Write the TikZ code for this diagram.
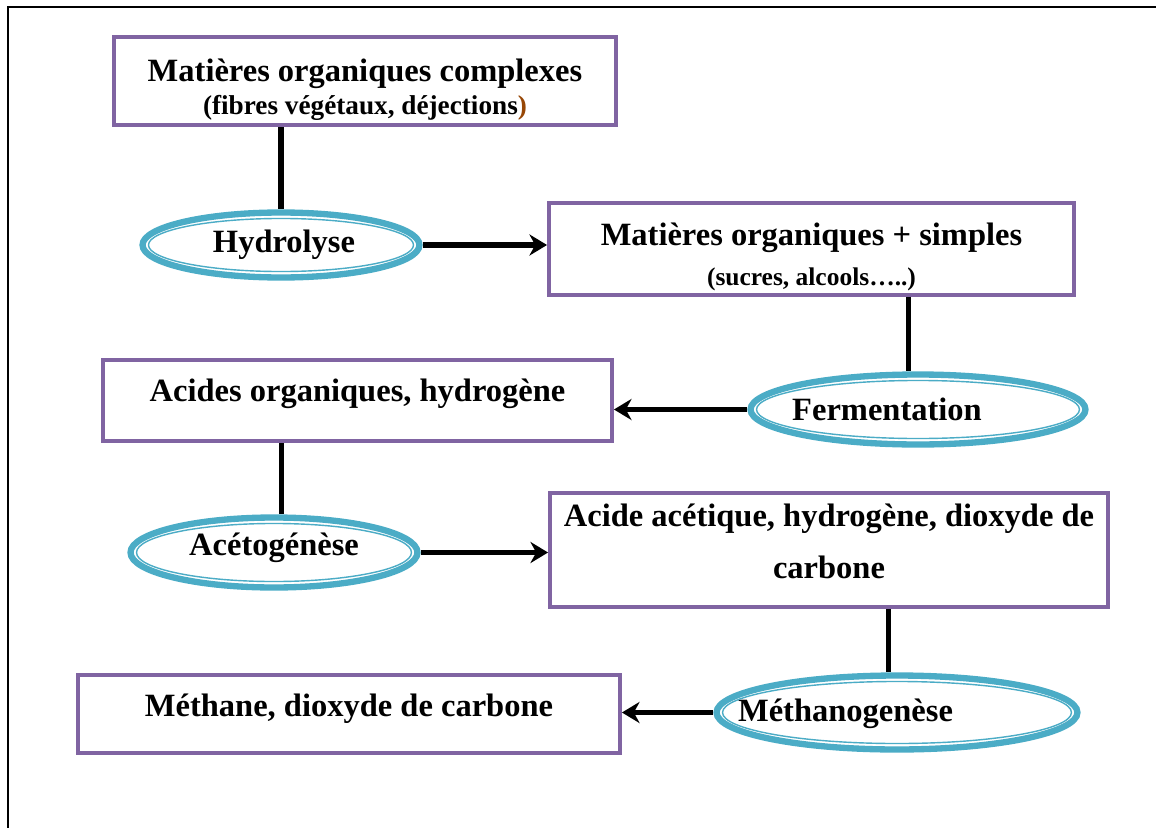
\documentclass[tikz,border=0pt]{standalone}
\usepackage{fontspec}
\setmainfont{Liberation Serif}
\usetikzlibrary{arrows.meta,positioning,shapes.geometric,calc}

\definecolor{boxline}{HTML}{8064A2}
\definecolor{ringline}{HTML}{4BACC6}
\definecolor{parenbrown}{HTML}{974706}

\newcommand{\subsize}{\fontsize{15.5}{18}\selectfont}
\newcommand{\smallsub}{\fontsize{14.5}{17}\selectfont}

\tikzset{
  stagebox/.style={draw=boxline, line width=2.3pt, align=center, inner sep=2pt},
  ring/.style={ellipse, draw=ringline, line width=3.6pt, fill=white, inner sep=0pt},
  link/.style={line width=3.3pt},
  flow/.style={line width=3.3pt, -{Stealth[length=10pt,width=12pt]}},
}
% thin inner line of the teal rings
\newcommand{\innerring}[1]{%
  \draw[ringline, line width=0.8pt] let \p1=(#1.east), \p2=(#1.north), \p3=(#1.center) in
    (\p3) ellipse [x radius=\x1-\x3-5.2pt, y radius=\y2-\y3-5.2pt];}

\begin{document}
\begin{tikzpicture}[x=0.02cm, y=-0.02cm, font=\bfseries\fontsize{18.5}{22}\selectfont]
\useasboundingbox (0,0) rectangle (1156,828);
\draw[line width=1.1pt] (8,828) -- (8,7) -- (1156,7);

% Stages
\node[stagebox, minimum width=10.04cm, minimum height=1.76cm] (complex) at (365,81)
  {\rule{0pt}{23pt}Matières organiques complexes\\[-3pt]{\subsize (fibres végétaux, déjections{\color{parenbrown})}}};
\node[stagebox, minimum width=10.5cm, minimum height=1.8cm] (simple) at (811.5,249)
  {\rule{0pt}{22pt}Matières organiques + simples\\[1pt]{\smallsub (sucres, alcools…..)}};
\node[stagebox, minimum width=10.18cm, minimum height=1.62cm, text depth=12pt] (acids) at (357.5,400.5)
  {Acides organiques, hydrogène};
\node[stagebox, minimum width=11.16cm, minimum height=2.28cm] (acetic) at (829,550)
  {Acide acétique, hydrogène, dioxyde de\\[8pt]carbone\rule[-10pt]{0pt}{10pt}};
\node[stagebox, minimum width=10.84cm, minimum height=1.56cm, text depth=10pt] (final) at (349,714)
  {Méthane, dioxyde de carbone};

% Processes
\node[ring, minimum width=5.54cm, minimum height=1.3cm,
  label={[xshift=0.06cm]center:Hydrolyse}] (hydro) at (281,245) {};
\node[ring, minimum width=6.7cm, minimum height=1.4cm,
  label={[xshift=-0.62cm]center:Fermentation}] (ferm) at (918,409.5) {};
\node[ring, minimum width=5.74cm, minimum height=1.4cm,
  label={[yshift=0.09cm]center:Acétogénèse}] (aceto) at (274,552.5) {};
\node[ring, minimum width=7.22cm, minimum height=1.48cm,
  label={[xshift=-1.03cm, yshift=-0.03cm]center:Méthanogenèse}] (metha) at (897,712.5) {};
\innerring{hydro}
\innerring{ferm}
\innerring{aceto}
\innerring{metha}

% Connectors
\draw[link] (complex.south -| hydro.north) -- (hydro.north);
\draw[flow] (hydro.east) -- (hydro.east -| simple.west);
\draw[link] (ferm.104 |- simple.south) -- (ferm.104);
\draw[flow] (ferm.west) -- (ferm.west -| acids.east);
\draw[link] (acids.south -| aceto.79) -- (aceto.79);
\draw[flow] (aceto.east) -- (aceto.east -| acetic.west);
\draw[link] (metha.102 |- acetic.south) -- (metha.102);
\draw[flow] (metha.west) -- (metha.west -| final.east);
\end{tikzpicture}
\end{document}
